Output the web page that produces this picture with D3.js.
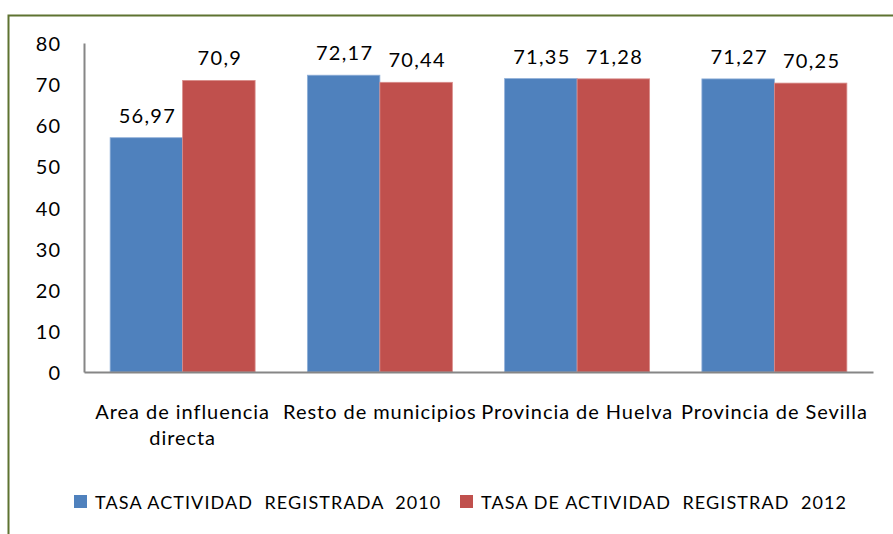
<!DOCTYPE html>
<html>
<head>
<meta charset="utf-8">
<script src="https://cdn.jsdelivr.net/npm/d3@7"></script>
<style>
  body { margin: 0; background: #fff; }
  svg text { font-family: Lato, "Open Sans", sans-serif; fill: #000; }
</style>
</head>
<body>
<div id="chart"></div>
<script>
// data
var categories = ["Area de influencia directa", "Resto de municipios", "Provincia de Huelva", "Provincia de Sevilla"];
var catLines = [["Area de influencia", "directa"], ["Resto de municipios"], ["Provincia de Huelva"], ["Provincia de Sevilla"]];
var series = ["TASA ACTIVIDAD  REGISTRADA  2010", "TASA DE ACTIVIDAD  REGISTRAD  2012"];
var values2010 = [56.97, 72.17, 71.35, 71.27];
var values2012 = [70.9, 70.44, 71.28, 70.25];
var yTicks = [0, 10, 20, 30, 40, 50, 60, 70, 80];
var colors = ["#4F81BD", "#C0504D"];

var w = 893;
var h = 534;
var plot = {left: 84, right: 873, top: 43, bottom: 372};

var svg = d3.select("#chart")
	.append("svg")
	.attr("width", w)
	.attr("height", h);

// outer border (runs off the right and bottom edges)
svg.append("rect")
	.attr("x", 8.5)
	.attr("y", 15.5)
	.attr("width", 900)
	.attr("height", 540)
	.attr("fill", "none")
	.attr("stroke", "#5E7331")
	.attr("stroke-width", 2);

var x0 = d3.scaleBand()
	.domain(categories)
	.range([plot.left, plot.right])
	.paddingInner(0.265)
	.paddingOuter(0.1325);

var x1 = d3.scaleBand()
	.domain([0, 1])
	.range([0, x0.bandwidth()]);

var y = d3.scaleLinear()
	.domain([0, 80])
	.range([plot.bottom, plot.top]);

var rows = categories.map(function(c, i) {
	return {cat: c, vals: [values2010[i], values2012[i]]};
});

var groups = svg.selectAll("g.cat")
	.data(rows)
	.enter()
	.append("g")
	.attr("class", "cat")
	.attr("transform", function(d) { return "translate(" + x0(d.cat) + ",0)"; });

groups.selectAll("rect")
	.data(function(d) { return d.vals; })
	.enter()
	.append("rect")
	.attr("x", function(d, i) { return x1(i); })
	.attr("y", function(d) { return y(d); })
	.attr("width", x1.bandwidth())
	.attr("height", function(d) { return y(0) - y(d); })
	.attr("fill", function(d, i) { return colors[i]; })
	.attr("stroke", function(d, i) { return i === 0 ? "#8FAFD8" : "#D98C8A"; })
	.attr("stroke-width", 0.8);

groups.selectAll("text.val")
	.data(function(d) { return d.vals; })
	.enter()
	.append("text")
	.attr("class", "val")
	.attr("text-anchor", "middle")
	.attr("x", function(d, i) { return x1(i) + x1.bandwidth() / 2 + 1; })
	.attr("y", function(d) { return y(d) - 15; })
	.attr("font-size", "20px")
	.attr("letter-spacing", "1.3px")
	.text(function(d) { return String(d).replace(".", ","); });

// y axis, no ticks
var yAxis = d3.axisLeft(y)
	.tickValues(yTicks)
	.tickSize(0)
	.tickPadding(23);

var gy = svg.append("g")
	.attr("transform", "translate(" + plot.left + ",0)")
	.call(yAxis);
gy.select(".domain").attr("stroke", "#868686").attr("stroke-width", 2);
gy.selectAll("text")
	.attr("font-size", "20px")
	.attr("letter-spacing", "1px")
	.attr("dy", "0.38em");

// x axis line
var xAxis = d3.axisBottom(x0).tickSize(0).tickFormat("");
var gx = svg.append("g")
	.attr("transform", "translate(0," + plot.bottom + ")")
	.call(xAxis);
gx.select(".domain").attr("stroke", "#868686").attr("stroke-width", 2);

// category labels
svg.selectAll("text.cat")
	.data(rows)
	.enter()
	.append("text")
	.attr("class", "cat")
	.attr("text-anchor", "middle")
	.attr("y", 419)
	.attr("font-size", "20px")
	.attr("letter-spacing", "0.95px")
	.each(function(d, i) {
		var t = d3.select(this);
		catLines[i].forEach(function(line, k) {
			t.append("tspan")
				.attr("x", x0(d.cat) + x0.bandwidth() / 2)
				.attr("dy", k === 0 ? 0 : 26)
				.text(line);
		});
	});

// legend
var legendX = [74, 460];
var legend = svg.selectAll("g.legend")
	.data(series)
	.enter()
	.append("g")
	.attr("class", "legend")
	.attr("transform", function(d, i) { return "translate(" + legendX[i] + ",495)"; });

legend.append("rect")
	.attr("width", 13)
	.attr("height", 13)
	.attr("fill", function(d, i) { return colors[i]; });

legend.append("text")
	.attr("x", 21)
	.attr("y", 14)
	.attr("font-size", "18px")
	.attr("letter-spacing", "1.1px")
	.attr("xml:space", "preserve")
	.style("white-space", "pre")
	.text(function(d) { return d; });
</script>
</body>
</html>
